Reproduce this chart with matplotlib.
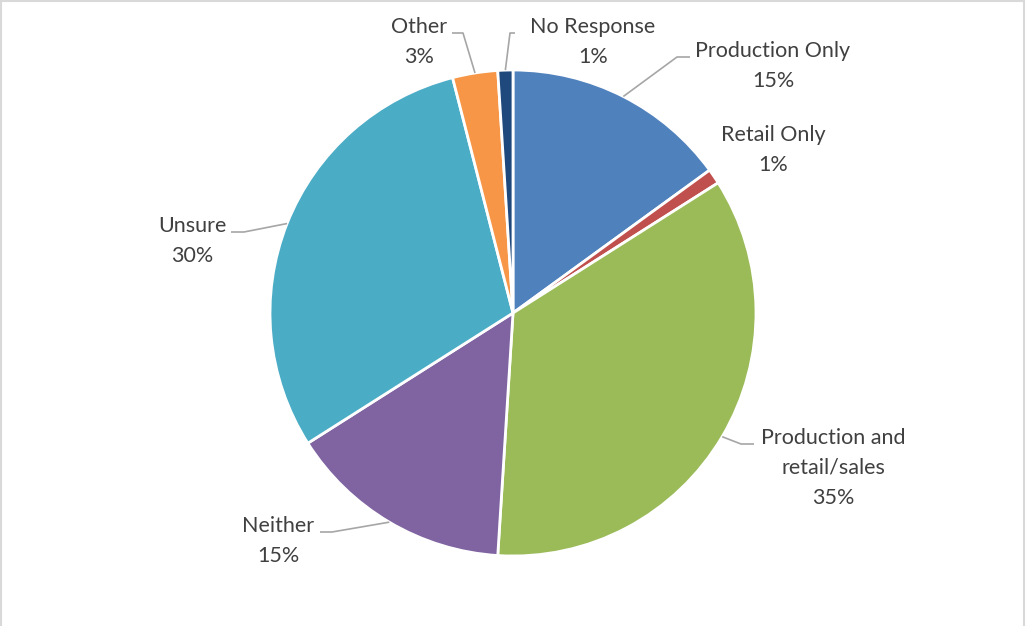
import matplotlib
matplotlib.use('Agg')
import matplotlib.pyplot as plt
import numpy as np
from matplotlib.patches import Rectangle

# Survey answers, clockwise from 12 o'clock
categories = ['Production Only', 'Retail Only', 'Production and\nretail/sales',
              'Neither', 'Unsure', 'Other', 'No Response']
shares = [15, 1, 35, 15, 30, 3, 1]

COLORS = ['#4F81BD', '#C0504D', '#9BBB59', '#8064A2', '#4BACC6', '#F79646', '#1F497D']
TEXT = '#404040'
LEADER = '#A6A6A6'

# Label placement in canvas pixels (x, y-from-top of the first line) and
# leader elbow (None = no leader line)
W, H = 1026, 626
CX, CY, R = 513, 313, 243
label_pos = [(773, 51), (773, 135), (833, 438), (278, 526), (192, 226), (419, 27), (593, 27)]
elbows = [((690, 57), (677, 57)),
          None,
          ((754, 444), (741, 444)),
          ((320, 532), (332, 532)),
          ((231, 232), (244, 232)),
          ((452, 33), (463, 33)),
          ((515, 33), (510, 33))]

plt.rcParams['font.family'] = ['Lato', 'DejaVu Sans']

fig = plt.figure(figsize=(W / 100, H / 100), dpi=100)
ax = fig.add_axes([0, 0, 1, 1])

wedges, _ = ax.pie(shares, colors=COLORS, startangle=90, counterclock=False,
                   center=(CX, H - CY), radius=R,
                   wedgeprops=dict(edgecolor='white', linewidth=2.0))

# pie() sets its own limits, so put the pixel frame back afterwards
ax.set_xlim(0, W)
ax.set_ylim(0, H)
ax.set_aspect('equal')
ax.axis('off')

line_h = 30
for i, (w, name, share) in enumerate(zip(wedges, categories, shares)):
    lines = name.split('\n') + [f'{share}%']
    lx, ly = label_pos[i]
    for j, txt in enumerate(lines):
        ax.text(lx, H - (ly + j * line_h), txt, ha='center', va='center',
                fontsize=15.5, color=TEXT)
    if elbows[i] is None:
        continue
    mid = np.deg2rad((w.theta1 + w.theta2) / 2)
    px, py = CX + R * np.cos(mid), (H - CY) + R * np.sin(mid)
    (ax0, ay0), (ax1, ay1) = elbows[i]
    ax.plot([ax0, ax1, px], [H - ay0, H - ay1, py], color=LEADER, lw=1.2,
            solid_capstyle='butt')

# thin chart-area frame
ax.add_patch(Rectangle((0.5, -5), W - 2.5, H + 4.5, fill=False,
                       edgecolor='#D9D9D9', lw=1.5, clip_on=False))

fig.savefig('out.png', dpi=100)
